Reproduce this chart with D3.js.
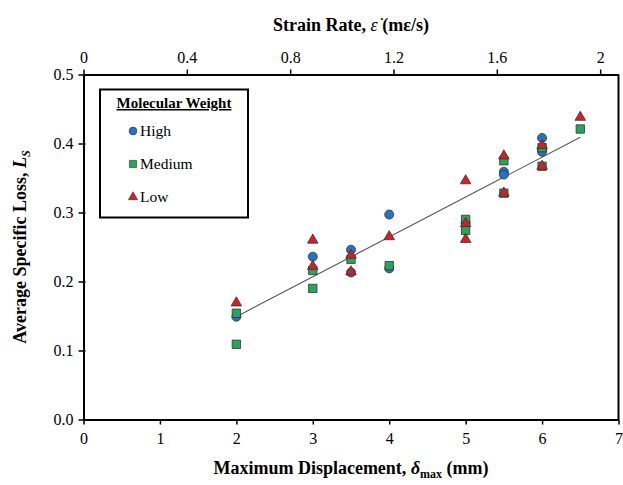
<!DOCTYPE html>
<html><head><meta charset="utf-8">
<script src="https://cdn.jsdelivr.net/npm/d3@7"></script>
<style>body{margin:0;background:#fff}svg{display:block}svg text{font-family:"Liberation Serif",serif !important}</style>
</head><body><svg id="c" width="623" height="485" font-family="Liberation Serif"></svg>
<script>
const xTicks = [0,1,2,3,4,5,6,7];
const yTicks = [0,0.1,0.2,0.3,0.4,0.5];
const topTicks = [0,0.4,0.8,1.2,1.6,2];
const highX = [2,3,3.5,3.5,4,4,5,5.5,5.5,6,6,6];
const highY = [0.149,0.236,0.246,0.213,0.297,0.219,0.285,0.359,0.355,0.408,0.392,0.388];
const medX = [2,2,3,3,3.5,4,5,5,5.5,5.5,6,6,6.5];
const medY = [0.154,0.109,0.216,0.190,0.232,0.223,0.290,0.274,0.375,0.328,0.394,0.367,0.421];
const lowX = [2,3,3,3.5,3.5,4,5,5,5,5.5,5.5,6,6,6.5];
const lowY = [0.169,0.260,0.222,0.238,0.214,0.265,0.346,0.284,0.261,0.382,0.328,0.397,0.367,0.438];
const trendX = [2,6.5];
const trendY = [0.149,0.409];
const seriesNames = ["High","Medium","Low"];

const svg = d3.select("#c");
const L=83.5,R=618.5,T=74.5,B=419.5;
const x = d3.scaleLinear().domain([0,7]).range([L,R]);
const xTop = d3.scaleLinear().domain([0,2.071]).range([L,R]);
const y = d3.scaleLinear().domain([0,0.5]).range([B,T]);

const gB = svg.append("g").attr("transform",`translate(0,${B})`)
  .call(d3.axisBottom(x).tickValues(xTicks).tickFormat(d3.format("d")).tickSize(5).tickSizeOuter(0));
const gT = svg.append("g").attr("transform",`translate(0,${T})`)
  .call(d3.axisTop(xTop).tickValues(topTicks).tickFormat(d=>String(d)).tickSize(5).tickSizeOuter(0));
const gL = svg.append("g").attr("transform",`translate(${L},0)`)
  .call(d3.axisLeft(y).tickValues(yTicks).tickFormat(d3.format(".1f")).tickSize(5).tickSizeOuter(0));
svg.append("line").attr("x1",R).attr("x2",R).attr("y1",T).attr("y2",B).attr("stroke","#000").attr("stroke-width",2);
[gB,gT,gL].forEach(g=>{
  g.attr("font-family","Liberation Serif");
  g.select(".domain").attr("stroke","#000").attr("stroke-width",2);
  g.selectAll(".tick line").attr("stroke","#000").attr("stroke-width",1.5);
  g.selectAll(".tick text").attr("font-family","Liberation Serif").attr("font-size",16).attr("fill","#000");
});
gB.selectAll(".tick text").attr("dy","1.05em").attr("y",8);
gT.selectAll(".tick text").attr("y",-12);
gL.selectAll(".tick text").attr("x",-10);
gL.selectAll(".tick line").attr("x1",2);

svg.append("line").attr("x1",x(trendX[0])).attr("y1",y(trendY[0])).attr("x2",x(trendX[1])).attr("y2",y(trendY[1]))
  .attr("stroke","#555").attr("stroke-width",1.1);

const colors = {High:"#2473c6",Medium:"#25a65a",Low:"#d51f26"};
const shapes = {High:d3.symbolCircle,Medium:d3.symbolSquare,Low:d3.symbolTriangle};
const sizes = {High:64,Medium:70,Low:48};
const data = {High:[highX,highY],Medium:[medX,medY],Low:[lowX,lowY]};
seriesNames.forEach(n=>{
  const [xs,ys]=data[n];
  svg.append("g").selectAll("path").data(xs.map((v,i)=>[v,ys[i]])).join("path")
    .attr("transform",d=>`translate(${x(d[0])},${y(d[1])})`)
    .attr("d",d3.symbol(shapes[n],sizes[n]))
    .attr("fill",colors[n]).attr("stroke","#333").attr("stroke-width",0.8);
});

const lg = svg.append("g");
lg.append("rect").attr("x",100).attr("y",89.5).attr("width",148).attr("height",128).attr("fill","#fff").attr("stroke","#000").attr("stroke-width",2);
lg.append("text").attr("x",174).attr("y",108).attr("text-anchor","middle").attr("font-weight","bold").attr("font-size",15).attr("text-decoration","underline").text("Molecular Weight");
seriesNames.forEach((n,i)=>{
  const yy = 131 + i*33;
  lg.append("path").attr("transform",`translate(133,${yy})`).attr("d",d3.symbol(shapes[n],sizes[n]*0.75)).attr("fill",colors[n]).attr("stroke","#333").attr("stroke-width",0.6);
  lg.append("text").attr("x",140).attr("y",yy+5).attr("font-size",15.5).text(n);
});

const bt = svg.append("text").attr("x",351).attr("y",474).attr("text-anchor","middle").attr("font-weight","bold").attr("font-size",18);
bt.append("tspan").text("Maximum Displacement, ");
bt.append("tspan").attr("font-style","italic").text("δ");
bt.append("tspan").attr("font-size",12).attr("dy",4).text("max");
bt.append("tspan").attr("dy",-4).text(" (mm)");

const tt = svg.append("text").attr("x",351).attr("y",31).attr("text-anchor","middle").attr("font-weight","bold").attr("font-size",18);
tt.append("tspan").text("Strain Rate, ");
tt.append("tspan").attr("font-style","italic").attr("font-weight","normal").text("ε\u0307");
tt.append("tspan").text(" (mε/s)");

const yt = svg.append("text").attr("transform","translate(26,247) rotate(-90)").attr("text-anchor","middle").attr("font-weight","bold").attr("font-size",18);
yt.append("tspan").text("Average Specific Loss, ");
yt.append("tspan").attr("font-style","italic").text("L");
yt.append("tspan").attr("font-style","italic").attr("font-size",12).attr("dy",4).text("S");
</script></body></html>
